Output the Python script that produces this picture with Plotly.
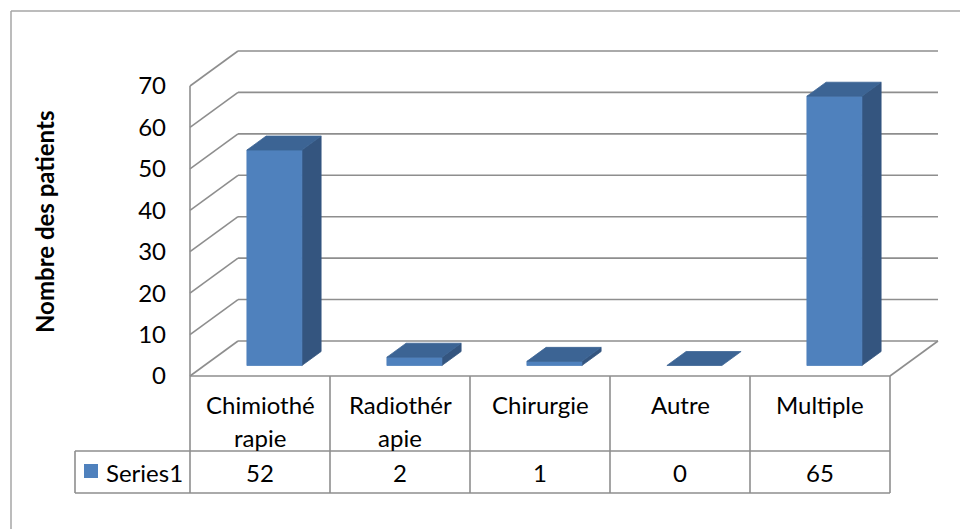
import plotly.graph_objects as go

# ---- data ----
categories = ["Chimiothérapie", "Radiothérapie", "Chirurgie", "Autre", "Multiple"]
category_lines = [["Chimiothé", "rapie"], ["Radiothér", "apie"], ["Chirurgie"], ["Autre"], ["Multiple"]]
values = [52, 2, 1, 0, 65]
series_name = "Series1"
y_ticks = [0, 10, 20, 30, 40, 50, 60, 70]
y_title = "Nombre des patients"

# ---- geometry (pixels of the 960x529 canvas) ----
W, H = 960, 529
X0_PX = 190      # left edge of the front plane (x = -0.5)
PX_X = 140       # pixels per category column
Y0_PX = 376      # value 0 on the front plane
PX_Y = 4.143     # pixels per value unit
DEPTH_PX = (48, 35)          # oblique depth of the 3-D box
BAR_W = 55 / PX_X            # bar width in category units
F0, F1 = 0.3, 0.7            # bar depth span (fraction of box depth)

FONT = "Lato, 'Open Sans', sans-serif"
FRONT = "#4F81BD"
SIDE = "#34557F"
TOP = "#3C6494"
GRID = "#8E8E8E"


def px2x(px):
    return -0.5 + (px - X0_PX) / PX_X


def px2y(py):
    return (Y0_PX - py) / PX_Y


DX = DEPTH_PX[0] / PX_X
DY = DEPTH_PX[1] / PX_Y
n = len(categories)

fig = go.Figure()


def poly(xs, ys, color):
    fig.add_trace(go.Scatter(
        x=xs + [xs[0]], y=ys + [ys[0]], mode="lines", fill="toself",
        fillcolor=color, line=dict(color=color, width=0.8),
        hoverinfo="skip", showlegend=False))


# ---- 3-D columns ----
for i, v in enumerate(values):
    xl = i - BAR_W / 2 + F0 * DX
    xr = xl + BAR_W
    yb = F0 * DY
    yt = yb + v
    ddx = (F1 - F0) * DX
    ddy = (F1 - F0) * DY
    if v > 0:
        poly([xr, xr + ddx, xr + ddx, xr], [yb, yb + ddy, yt + ddy, yt], SIDE)
        poly([xl, xr, xr, xl], [yb, yb, yt, yt], FRONT)
    poly([xl, xr, xr + ddx, xl + ddx], [yt, yt, yt + ddy, yt + ddy], TOP)

shapes = []


def line(x0, y0, x1, y1, color=GRID, width=1.6, layer="below", ref="data"):
    d = dict(type="line", x0=x0, y0=y0, x1=x1, y1=y1,
             line=dict(color=color, width=width), layer=layer)
    if ref == "data":
        d.update(xref="x", yref="y")
    else:
        d.update(xref="paper", yref="paper")
    shapes.append(d)


# ---- walls and gridlines ----
x_left = -0.5
x_right = n - 0.5
for t in y_ticks:
    line(x_left, t, x_left + DX, t + DY)
    line(x_left + DX, t + DY, x_right + DX, t + DY)
line(x_left, 0, x_left, y_ticks[-1])
line(x_right, 0, x_right + DX, DY)

# ---- data table ----
row1_bot = px2y(451)
row2_bot = px2y(493)
legend_left = px2x(75)
line(x_left, 0, x_right, 0)
line(x_left, row1_bot, x_right, row1_bot)
line(legend_left, row1_bot, x_left, row1_bot)
line(legend_left, row2_bot, x_right, row2_bot)
line(legend_left, row1_bot, legend_left, row2_bot)
for k in range(n + 1):
    line(x_left + k, 0, x_left + k, row2_bot)

# legend key square
shapes.append(dict(type="rect", xref="x", yref="y",
                   x0=px2x(84), x1=px2x(98), y0=px2y(464), y1=px2y(478),
                   fillcolor=FRONT, line=dict(width=0)))

# outer chart border
line(11 / W, 1 - 11 / H, 1, 1 - 11 / H, color="#A6A6A6", width=1.5, ref="paper")
line(11 / W, 1 - 11 / H, 11 / W, 0, color="#A6A6A6", width=1.5, ref="paper")

annotations = []
text_font = dict(family=FONT, size=24, color="#000000")
line_y = [px2y(404), px2y(437)]
for i, parts in enumerate(category_lines):
    for j, part in enumerate(parts):
        annotations.append(dict(x=i, y=line_y[j], xref="x", yref="y", text=part,
                                showarrow=False, font=text_font,
                                xanchor="center", yanchor="middle"))
for i, v in enumerate(values):
    annotations.append(dict(x=i, y=px2y(472), xref="x", yref="y", text=str(v),
                            showarrow=False, font=text_font,
                            xanchor="center", yanchor="middle"))
annotations.append(dict(x=px2x(104), y=px2y(472), xref="x", yref="y", text=series_name,
                        showarrow=False, font=text_font,
                        xanchor="left", yanchor="middle"))
annotations.append(dict(x=44 / W, y=1 - 222 / H, xref="paper", yref="paper",
                        text="<b>" + y_title + "</b>", textangle=-90,
                        showarrow=False,
                        font=dict(family=FONT, size=24, color="#000000"),
                        xanchor="center", yanchor="middle"))

fig.update_layout(
    width=W, height=H,
    margin=dict(l=0, r=0, t=0, b=0),
    paper_bgcolor="white", plot_bgcolor="white",
    showlegend=False,
    shapes=shapes,
    annotations=annotations,
    xaxis=dict(range=[px2x(0), px2x(W)], visible=False, fixedrange=True),
    yaxis=dict(range=[px2y(H), px2y(0)], anchor="free", position=X0_PX / W,
               tickvals=y_ticks, ticktext=[str(t) for t in y_ticks],
               showgrid=False, zeroline=False, showline=False, ticks="",
               ticklabelstandoff=24,
               tickfont=dict(family=FONT, size=24, color="#000000"),
               fixedrange=True),
)

fig.write_html("out.html")
